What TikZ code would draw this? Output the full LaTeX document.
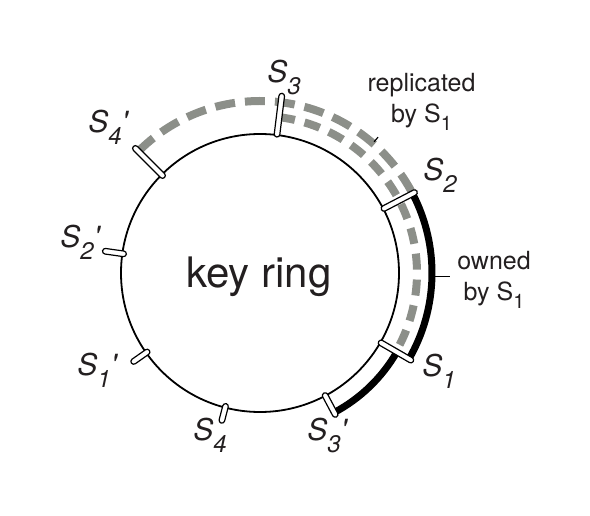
\documentclass[tikz,border=0pt]{standalone}
\usepackage{fontspec}
\setmainfont{TeX Gyre Heros}
\usepackage{tikz}
\usetikzlibrary{positioning}

\definecolor{ringgray}{RGB}{140,143,137}
\definecolor{ink}{RGB}{35,31,32}

% server label: S, subscript, optional prime
\newcommand{\srvlab}[2]{S\raisebox{-6pt}{\fontsize{12}{12}\selectfont #1}#2}
\newcommand{\subone}{\raisebox{-4pt}{\fontsize{10}{10}\selectfont 1}}

\begin{document}
\begin{tikzpicture}[x=0.5pt,y=0.5pt,text=ink]
  \tikzstyle{peg}=[draw,fill=white,rounded corners=1.4pt,inner sep=0pt,minimum height=2.8pt,line width=0.6pt]
  \tikzstyle{srv}=[inner sep=0pt,anchor=base west,font=\fontsize{15}{15}\selectfont\itshape]
  \tikzstyle{replica}=[draw=ringgray,line width=4pt]
  \tikzstyle{owner}=[line width=3.5pt]
  \tikzstyle{note}=[align=center,font=\fontsize{12.5}{15.5}\selectfont]

  \useasboundingbox (0,0) rectangle (590,515);
  \coordinate (O) at (260,242);

  \begin{scope}[shift={(O)}]
    \draw[line width=0.9pt] (0,0) circle (139);

    % ranges replicated by S1
    \draw[replica,dash pattern=on 10pt off 5pt] (135:172) arc[start angle=135,end angle=27.5,radius=172];
    \draw[replica,dash pattern=on 8pt off 5pt] (83:157) arc[start angle=83,end angle=-30,radius=157];

    % range owned by S1
    \draw[owner] (-62:158) arc[start angle=-62,end angle=-30,radius=158];
    \draw[owner] (-30:172) arc[start angle=-30,end angle=27.5,radius=172];

    \coordinate (rt) at (49:174);
    \coordinate (ot) at (-1.3:172);

    % server positions on the ring
    \node[peg,minimum width=22pt,rotate=83]     (S3)  at (83:159)     {};
    \node[peg,minimum width=20pt,rotate=27.5]   (S2)  at (27.5:157)   {};
    \node[peg,minimum width=20pt,rotate=-30]    (S1)  at (-30:157)    {};
    \node[peg,minimum width=13.5pt,rotate=-62]  (S3p) at (-62:149.5)  {};
    \node[peg,minimum width=10pt,rotate=-104.5] (S4)  at (-104.5:145) {};
    \node[peg,minimum width=11pt,rotate=-145]   (S1p) at (-145:146)   {};
    \node[peg,minimum width=12pt,rotate=172]    (S2p) at (172:147)    {};
    \node[peg,minimum width=22pt,rotate=135]    (S4p) at (135:157)    {};
  \end{scope}

  \node[srv] (L3)  at (267,432) {\srvlab{3}{}};
  \node[srv] (L2)  at (423,334) {\srvlab{2}{}};
  \node[srv] (L1)  at (422,139) {\srvlab{1}{}};
  \node[srv] (L3p) at (307,75)  {\srvlab{3}{\textquotesingle}};
  \node[srv] (L4)  at (193,75)  {\srvlab{4}{}};
  \node[srv] (L1p) at (77,140)  {\srvlab{1}{\textquotesingle}};
  \node[srv] (L2p) at (60,267)  {\srvlab{2}{\textquotesingle}};
  \node[srv] (L4p) at (88,382)  {\srvlab{4}{\textquotesingle}};

  \node[anchor=base,font=\fontsize{21}{21}\selectfont] (K) at (259,227) {key ring};

  \node[note] (rep) at (421.5,413) {replicated\\by S\subone};
  \node[note] (own) at (494,235)   {owned\\by S\subone};

  \draw[line width=0.6pt] (rt) -- ++(49:6);
  \draw[line width=0.6pt] (ot) -- (ot -| own.west);
\end{tikzpicture}
\end{document}
